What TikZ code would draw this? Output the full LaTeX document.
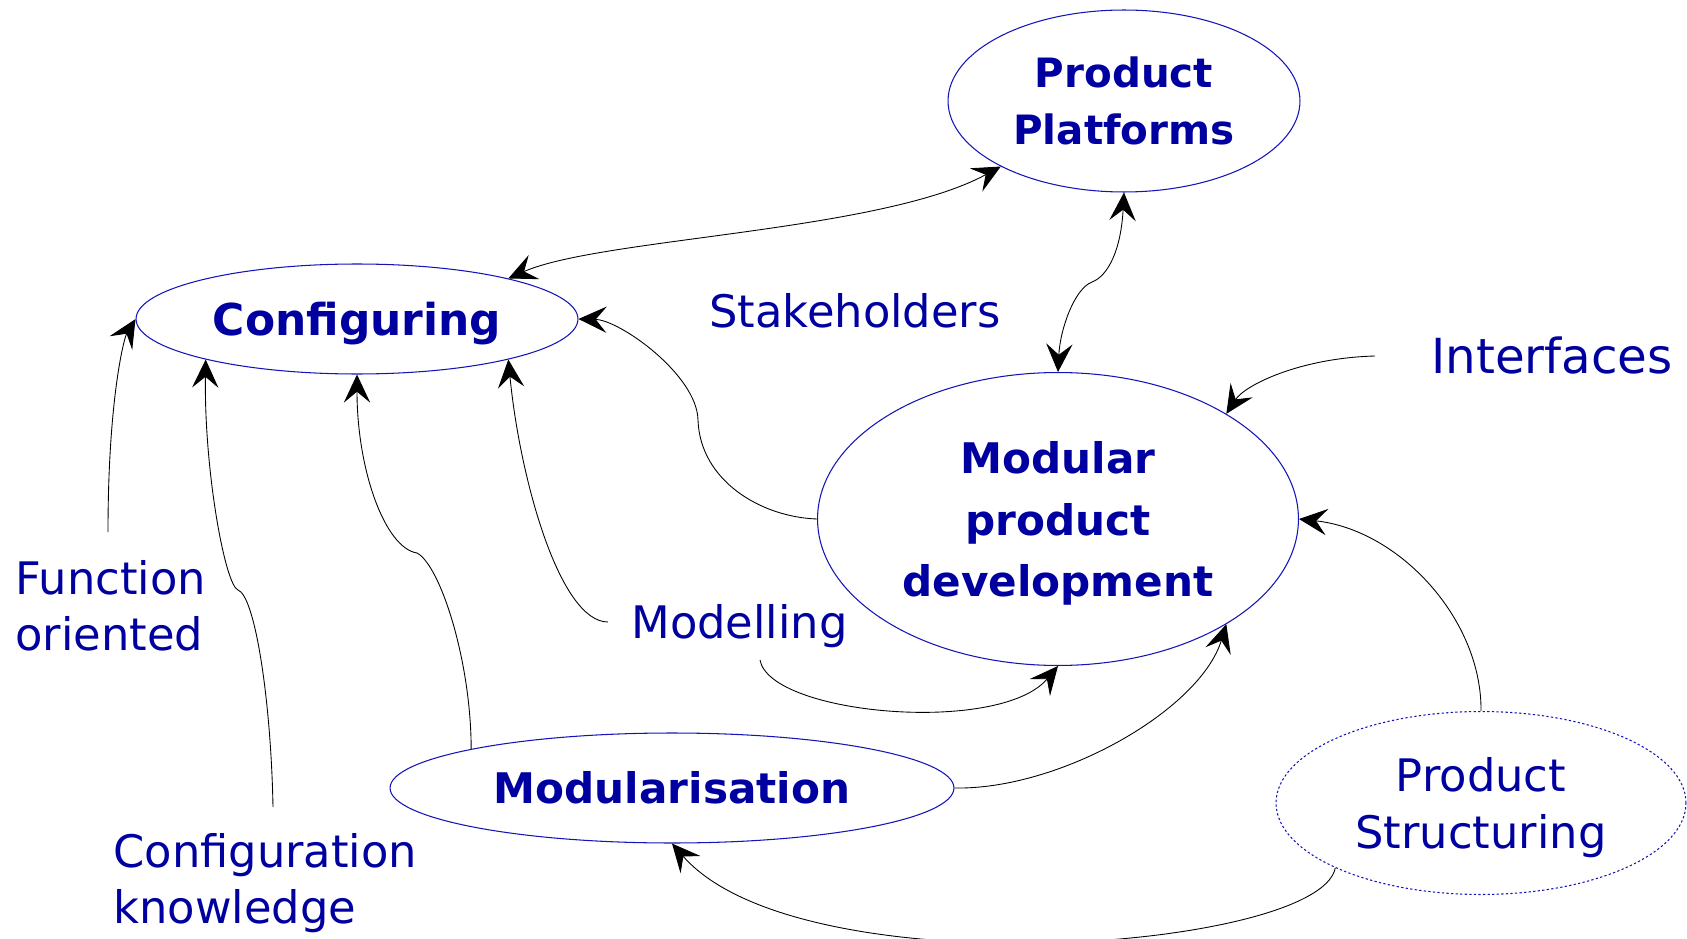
\documentclass[tikz,border=0pt]{standalone}
\usepackage{fontspec}
\setmainfont{DejaVu Sans}
\usetikzlibrary{arrows.meta,shapes.geometric}
\definecolor{txt}{RGB}{0,0,160}
\definecolor{edge}{RGB}{20,20,185}
\begin{document}
\begin{tikzpicture}[x=0.02cm,y=-0.02cm,
  myarr/.tip={Stealth[length=16pt,width=15pt,inset=6.2pt]},
  conn/.style={line width=0.5pt,-myarr},
  dconn/.style={line width=0.5pt,myarr-myarr},
  bub/.style={ellipse,draw=edge,line width=0.6pt,text=txt,inner sep=0pt,align=center,
    font=\bfseries\fontsize{24pt}{32pt}\selectfont},
  lab/.style={text=txt,inner sep=0pt,font=\fontsize{25.5pt}{32pt}\selectfont}]
\fill[white] (0,0) rectangle (1687,939);
\useasboundingbox (0,0) rectangle (1687,939);
% main ellipses
\node[bub,minimum width=8.84cm,minimum height=2.2cm,text depth=0pt,font=\bfseries\fontsize{25pt}{32pt}\selectfont] (cfg) at (357,319) {Configuring};
\node[bub,minimum width=7.04cm,minimum height=3.64cm,font=\bfseries\fontsize{23pt}{32pt}\selectfont] (pp) at (1124,101) {Product\\Platforms};
\node[bub,minimum width=9.62cm,minimum height=5.86cm,text depth=0pt,font=\bfseries\fontsize{24pt}{35pt}\selectfont] (mpd) at (1058,519) {Modular\\product\\development};
\node[bub,minimum width=11.28cm,minimum height=2.2cm] (mod) at (672,788) {Modularisation};
\node[bub,minimum width=8.2cm,minimum height=3.66cm,dash pattern=on 1.3pt off 1.3pt,text depth=0pt,
  font=\fontsize{25.5pt}{32pt}\selectfont] (ps) at (1481,803) {Product\\Structuring};
% labels
\node[lab,anchor=base] (stk) at (855,327) {Stakeholders};
\node[lab,anchor=base west,font=\fontsize{27.5pt}{32pt}\selectfont] (intf) at (1431,373) {Interfaces};
\node[lab,anchor=west,align=left] (fo) at (15,606) {Function\\oriented};
\node[lab,anchor=west,align=left] (ck) at (113,883) {Configuration\\knowledge};
\node[lab,anchor=base west] (mdl) at (631,638) {Modelling};
% free ends and bends
\coordinate (foS) at (108,532);
\coordinate (ckS) at (273,807);
\coordinate (ckK) at (238,590);
\coordinate (modK) at (417,553);
\coordinate (ppK) at (1092,282);
\coordinate (mcK) at (698,420);
\coordinate (mdlS) at (608,622);
\coordinate (mdlB) at (760,660);
\coordinate (intS) at (1375,356);
% connectors
\draw[dconn] (cfg.15) .. controls (600,238) and (880,232) .. (pp.208);
\draw[dconn] (pp.south) .. controls (1121,250) and (1108,276) .. (ppK)
  .. controls (1074,289) and (1060,330) .. (mpd.north);
\draw[conn] (mpd.west) .. controls (760,517) and (700,480) .. (mcK)
  .. controls (697,375) and (620,320) .. (cfg.east);
\draw[conn] (intS) .. controls (1300,358) and (1245,385) .. (mpd.32);
\draw[conn] (ps.north) .. controls (1482,620) and (1400,530) .. (mpd.east);
\draw[conn] (mdlS) .. controls (560,622) and (520,480) .. (cfg.345);
\draw[conn] (mdlB) .. controls (770,715) and (1000,735) .. (mpd.south);
\draw[conn] (mod.east) .. controls (1060,790) and (1200,710) .. (mpd.328);
\draw[conn] (mod.169) .. controls (471,660) and (440,565) .. (modK)
  .. controls (385,548) and (357,470) .. (cfg.south);
\draw[conn] (ckS) .. controls (271,700) and (255,596) .. (ckK)
  .. controls (225,585) and (204,470) .. (cfg.195);
\draw[conn] (foS) .. controls (108,400) and (124,338) .. (cfg.west);
\draw[conn] (ps.204) .. controls (1320,950) and (800,990) .. (mod.south);
\end{tikzpicture}
\end{document}
